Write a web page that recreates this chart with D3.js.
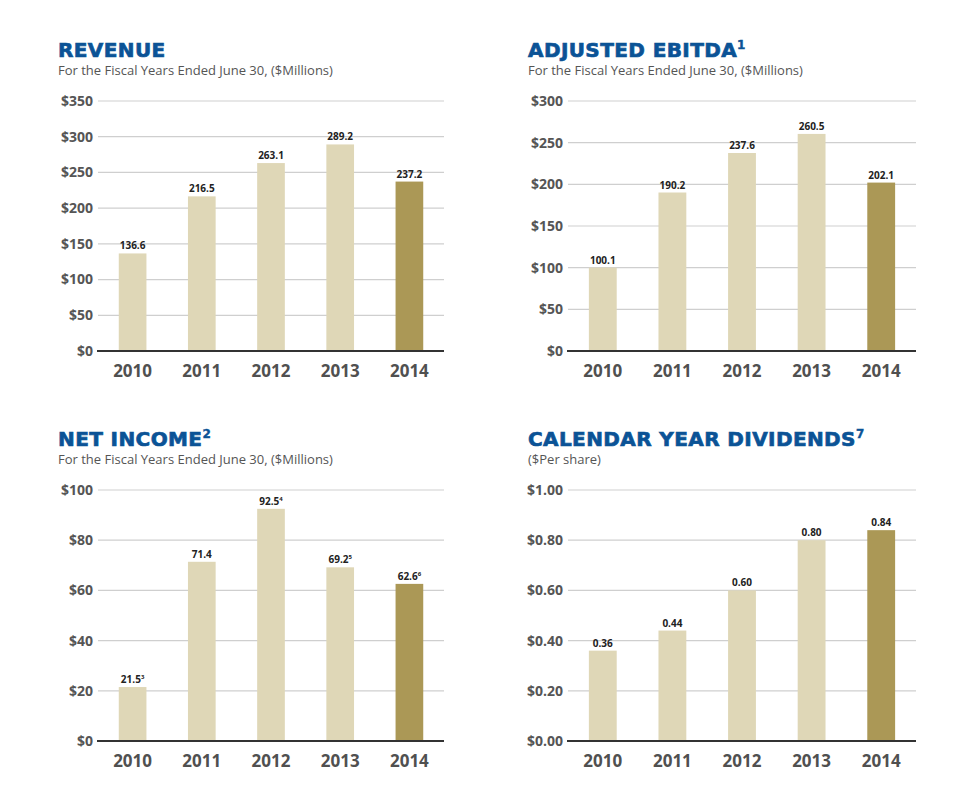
<!DOCTYPE html>
<html>
<head>
<meta charset="utf-8">
<script src="https://cdn.jsdelivr.net/npm/d3@7"></script>
<style>
  body { margin: 0; background: #fff; }
  svg { display: block; }
  .title { font-family: "DejaVu Sans", sans-serif; font-weight: bold; fill: #0b5396; stroke: #0b5396; stroke-width: 0.7px; letter-spacing: 0.4px; }
  .sub { font-family: "Open Sans", sans-serif; fill: #555; }
  .ytick { font-family: "Open Sans", sans-serif; font-weight: bold; fill: #555; }
  .xtick { font-family: "Open Sans", sans-serif; font-weight: bold; fill: #505050; }
  .val { font-family: "Open Sans", sans-serif; font-weight: bold; fill: #222; }
</style>
</head>
<body>
<svg id="chart" width="960" height="802"></svg>
<script>
var years = ["2010", "2011", "2012", "2013", "2014"];

var revenue = [136.6, 216.5, 263.1, 289.2, 237.2];
var revenueTicks = [0, 50, 100, 150, 200, 250, 300, 350];

var ebitda = [100.1, 190.2, 237.6, 260.5, 202.1];
var ebitdaTicks = [0, 50, 100, 150, 200, 250, 300];

var netIncome = [21.5, 71.4, 92.5, 69.2, 62.6];
var netIncomeNotes = ["3", "", "4", "5", "6"];
var netIncomeTicks = [0, 20, 40, 60, 80, 100];

var dividends = [0.36, 0.44, 0.60, 0.80, 0.84];
var dividendTicks = [0, 0.2, 0.4, 0.6, 0.8, 1.0];

var svg = d3.select("#chart");

var panel = function (o) {
	"use strict";
	var g = svg.append("g");

	var t = g.append("text").attr("class", "title")
		.attr("x", o.left - 40).attr("y", o.top - 44)
		.style("font-size", "20px");
	t.append("tspan").text(o.title);
	if (o.titleNote) {
		t.append("tspan").text(o.titleNote)
			.style("font-size", "12px").style("stroke-width", "0.4px").attr("dy", -8);
	}

	g.append("text").attr("class", "sub")
		.attr("x", o.left - 40).attr("y", o.top - 26)
		.style("font-size", "13px")
		.text(o.subtitle);

	var x = d3.scaleBand().domain(years).range([o.left, o.right]).paddingInner(0.6).paddingOuter(0.3);
	var y = d3.scaleLinear().domain([0, d3.max(o.ticks)]).range([o.bottom, o.top]);

	g.selectAll(".grid").data(o.ticks.slice(1))
		.enter().append("line")
		.attr("class", "grid")
		.attr("x1", o.left).attr("x2", o.right)
		.attr("y1", function (d) { return y(d); })
		.attr("y2", function (d) { return y(d); })
		.style("stroke", "#cfcfcf").style("stroke-width", 1.2);

	g.selectAll(".ytick").data(o.ticks)
		.enter().append("text")
		.attr("class", "ytick")
		.attr("x", o.left - 5)
		.attr("y", function (d) { return y(d); })
		.attr("dy", "0.35em")
		.attr("text-anchor", "end")
		.style("font-size", "14px")
		.text(o.tickFormat);

	g.selectAll(".bar").data(o.values)
		.enter().append("rect")
		.attr("class", "bar")
		.attr("x", function (d, i) { return x(years[i]); })
		.attr("width", x.bandwidth())
		.attr("y", function (d) { return y(d); })
		.attr("height", function (d) { return y(0) - y(d); })
		.style("fill", function (d, i) { return i === years.length - 1 ? "#ab9856" : "#dfd7b7"; });

	var vals = g.selectAll(".val").data(o.values)
		.enter().append("text")
		.attr("class", "val")
		.attr("x", function (d, i) { return x(years[i]) + x.bandwidth() / 2; })
		.attr("y", function (d) { return y(d) - 4; })
		.attr("text-anchor", "middle")
		.style("font-size", "10px");
	vals.append("tspan").text(o.valueFormat);
	if (o.notes) {
		vals.append("tspan")
			.text(function (d, i) { return o.notes[i]; })
			.style("font-size", "6px").attr("dy", -4);
	}

	g.append("line")
		.attr("x1", o.left - 1).attr("x2", o.right)
		.attr("y1", y(0)).attr("y2", y(0))
		.style("stroke", "#333").style("stroke-width", 2);

	g.selectAll(".xtick").data(years)
		.enter().append("text")
		.attr("class", "xtick")
		.attr("x", function (d) { return x(d) + x.bandwidth() / 2; })
		.attr("y", o.bottom + 26)
		.attr("text-anchor", "middle")
		.style("font-size", "17px")
		.text(function (d) { return d; });
};

var dollars = function (d) { return "$" + d; };
var oneDec = d3.format(".1f");

panel({
	title: "REVENUE", subtitle: "For the Fiscal Years Ended June 30, ($Millions)",
	values: revenue, ticks: revenueTicks,
	left: 98, right: 444, top: 101, bottom: 351,
	tickFormat: dollars, valueFormat: oneDec
});

panel({
	title: "ADJUSTED EBITDA", titleNote: "1", subtitle: "For the Fiscal Years Ended June 30, ($Millions)",
	values: ebitda, ticks: ebitdaTicks,
	left: 568, right: 916, top: 101, bottom: 351,
	tickFormat: dollars, valueFormat: oneDec
});

panel({
	title: "NET INCOME", titleNote: "2", subtitle: "For the Fiscal Years Ended June 30, ($Millions)",
	values: netIncome, notes: netIncomeNotes, ticks: netIncomeTicks,
	left: 98, right: 444, top: 490, bottom: 741,
	tickFormat: dollars, valueFormat: oneDec
});

panel({
	title: "CALENDAR YEAR DIVIDENDS", titleNote: "7", subtitle: "($Per share)",
	values: dividends, ticks: dividendTicks,
	left: 568, right: 916, top: 490, bottom: 741,
	tickFormat: function (d) { return "$" + d3.format(".2f")(d); },
	valueFormat: d3.format(".2f")
});
</script>
</body>
</html>
